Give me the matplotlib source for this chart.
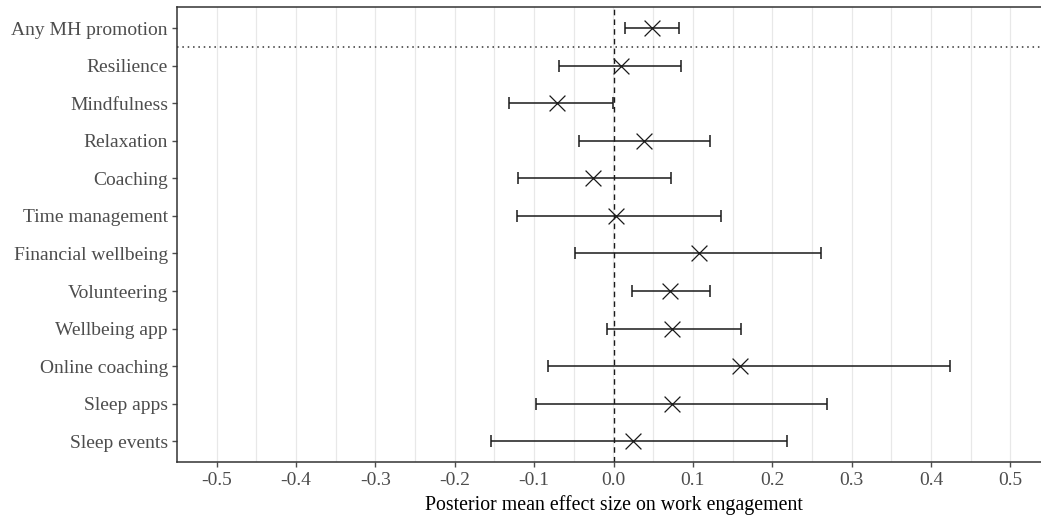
import matplotlib
matplotlib.use("Agg")
import matplotlib.pyplot as plt
import numpy as np

categories = ["Any MH promotion", "Resilience", "Mindfulness", "Relaxation", "Coaching",
              "Time management", "Financial wellbeing", "Volunteering", "Wellbeing app",
              "Online coaching", "Sleep apps", "Sleep events"]
means = [0.049, 0.009, -0.071, 0.039, -0.026, 0.003, 0.108, 0.071, 0.074, 0.160, 0.074, 0.024]
lower = [0.014, -0.069, -0.132, -0.043, -0.120, -0.122, -0.048, 0.023, -0.008, -0.083, -0.098, -0.154]
upper = [0.083, 0.085, -0.001, 0.121, 0.073, 0.135, 0.261, 0.121, 0.161, 0.424, 0.269, 0.218]
xticks = [-0.5, -0.4, -0.3, -0.2, -0.1, 0.0, 0.1, 0.2, 0.3, 0.4, 0.5]
xlabel = "Posterior mean effect size on work engagement"

plt.rcParams['font.family'] = ['Liberation Serif', 'DejaVu Serif']

fig = plt.figure(figsize=(10.41, 5.2), dpi=100)
# panel extends slightly past the right edge of the image (as in the reference)
ax = fig.add_axes([177/1041, 1 - 462/520, (1050 - 177)/1041, (462 - 7)/520])

n = len(categories)
y = np.arange(n, 0, -1)
means_a = np.array(means)
err = np.vstack([means_a - np.array(lower), np.array(upper) - means_a])

# major + minor vertical grid
for v in np.arange(-0.5, 0.51, 0.05):
    ax.axvline(v, color="#E8E8E8", lw=0.9, zorder=0)

ax.errorbar(means, y, xerr=err, fmt="none", ecolor="#1a1a1a", elinewidth=1.1,
            capsize=4, capthick=1.1, zorder=3)
ax.scatter(means, y, marker="x", s=130, color="#1a1a1a", linewidths=0.9, zorder=4)

ax.axvline(0, color="#1a1a1a", lw=1.0, ls=(0, (4, 3)), zorder=2)
ax.axhline(n - 0.5, color="#333333", lw=1.1, ls=(0, (1, 2.5)), zorder=2)

ax.set_xlim(-0.55, 0.55)
ax.set_ylim(0.45, n + 0.56)
ax.set_yticks(y)
ax.set_yticklabels(categories)
ax.set_xticks(xticks)
ax.set_xticklabels([f"{t:.1f}" for t in xticks])
ax.tick_params(axis="both", colors="#4D4D4D", labelsize=14, length=3.5, width=1.0)
ax.tick_params(axis="y", pad=3)
ax.tick_params(axis="x", pad=4)
ax.set_xlabel(xlabel, fontsize=14.3, color="black", labelpad=4)
for s in ax.spines.values():
    s.set_color("#333333")
    s.set_linewidth(1.1)
ax.spines["right"].set_visible(False)

fig.savefig("out.png", dpi=100)
